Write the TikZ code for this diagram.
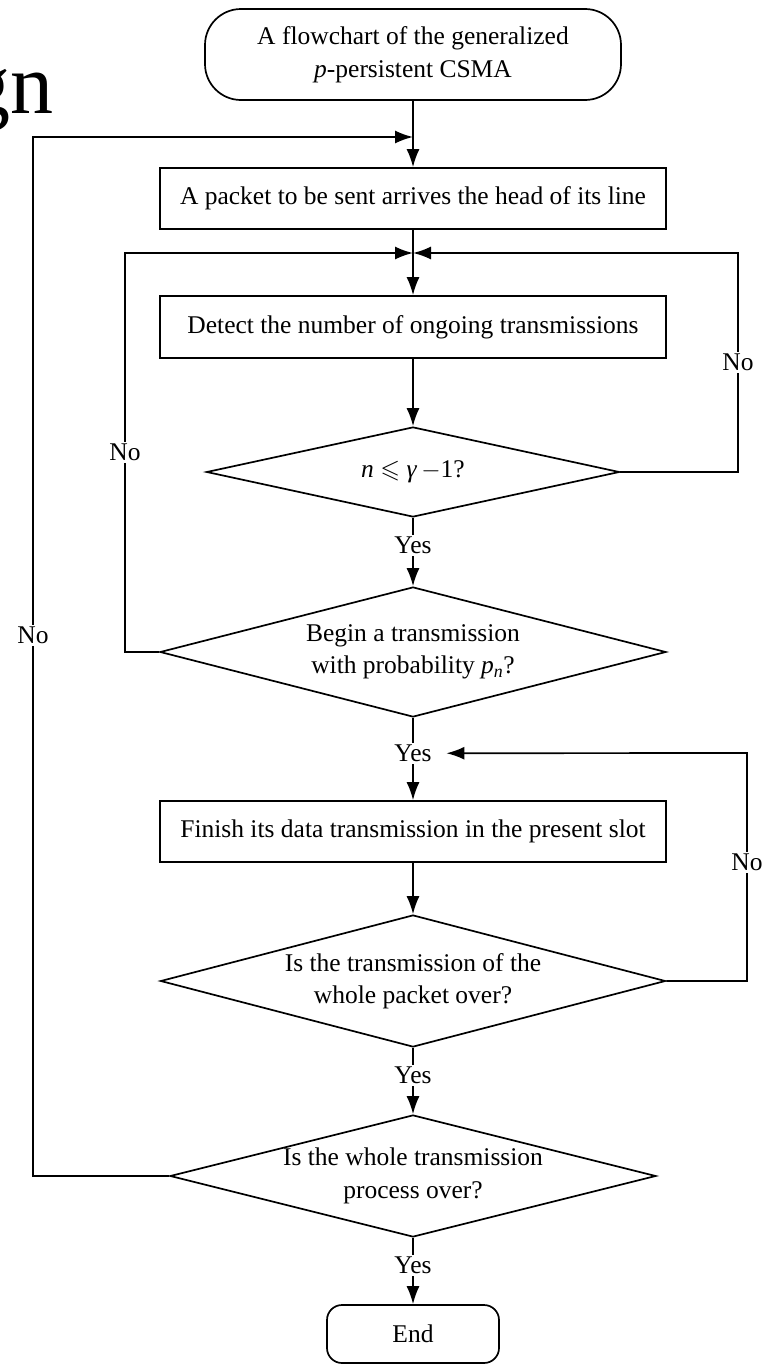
\documentclass[tikz,border=0pt]{standalone}
\usepackage{fontspec}
\setmainfont{Liberation Serif}
\usepackage{amssymb}
\usetikzlibrary{arrows.meta, shapes.geometric, math}

\tikzset{
  flow/.style={-{Latex[length=18pt,width=13pt]}, line width=1.7pt},
  procbox/.style={draw, line width=1.7pt, minimum width=506pt, minimum height=61pt, inner sep=0pt},
  termbox/.style={draw, line width=1.7pt, rounded corners=#1, inner sep=0pt, align=center},
  decide/.style={draw, diamond, line width=1.7pt, inner sep=-6pt, align=center},
  lbl/.style={fill=white, inner sep=2pt},
}

\begin{document}
\begin{tikzpicture}[x=1pt, y=-1pt, font=\fontsize{25.5}{32.5}\selectfont]
\tikzmath{
\cx=413;
}
\useasboundingbox (0,0) rectangle (764,1365);

\node[anchor=base east, font=\fontsize{86}{86}\selectfont, inner sep=0pt] (frag) at (54,113) {gn};

\node[termbox=36pt, minimum width=416pt, minimum height=91pt] (start) at (\cx,54.5) {A flowchart of the generalized\\\textit{p}-persistent CSMA};
\node[procbox] (pkt) at (\cx,198.5) {A packet to be sent arrives the head of its line};
\node[procbox, minimum height=62pt] (detect) at (\cx,327) {Detect the number of ongoing transmissions};
\node[decide, minimum width=413pt, minimum height=90pt, aspect=4.6] (cnt) at (\cx,472) {\textit{n} $\leqslant$ \textit{γ}\,$-$1?};
\node[decide, minimum width=506pt, minimum height=130pt, aspect=3.9] (beg) at (\cx,652) {Begin a transmission\\with probability \textit{p}\textsubscript{\textit{n}}?};
\node[procbox] (fin) at (\cx,831.5) {Finish its data transmission in the present slot};
\node[decide, minimum width=505pt, minimum height=132pt, aspect=3.8] (whole) at (\cx,981) {Is the transmission of the\\whole packet over?};
\node[decide, minimum width=486pt, minimum height=122pt, aspect=4] (proc) at (\cx,1176) {Is the whole transmission\\process over?};
\node[termbox=15pt, minimum width=172pt, minimum height=58pt] (end) at (\cx,1334) {End};

\coordinate (top) at (\cx,137);
\coordinate (mid) at (\cx,253);
\coordinate (r1) at (738,253);
\coordinate (l1) at (125,253);
\coordinate (l2) at (33,137);
\coordinate (r2) at (747,753);

\draw[flow] (start) -- (pkt);
\draw[flow] (pkt) -- (detect);
\draw[flow] (detect) -- (cnt);
\draw[flow] (cnt) -- node[lbl, pos=0.4] {Yes} (beg);
\draw[flow] (beg) -- node[lbl, pos=0.43] (yes2) {Yes} (fin);
\draw[flow] (fin) -- (whole);
\draw[flow] (whole) -- node[lbl, pos=0.41] {Yes} (proc);
\draw[flow] (proc) -- node[lbl, pos=0.41] {Yes} (end);

\draw[flow] (cnt.east) -| node[lbl, pos=0.75] {No} (r1) -- (mid);
\draw[flow] (beg.west) -| node[lbl, pos=0.75] {No} (l1) -- (mid);
\draw[flow] (proc.west) -| node[lbl, pos=0.76] {No} (l2) -- (top);
\draw[flow, shorten >=12pt] (whole.east) -| node[lbl, pos=0.76] {No} (r2) -- (yes2.east);

\end{tikzpicture}
\end{document}
